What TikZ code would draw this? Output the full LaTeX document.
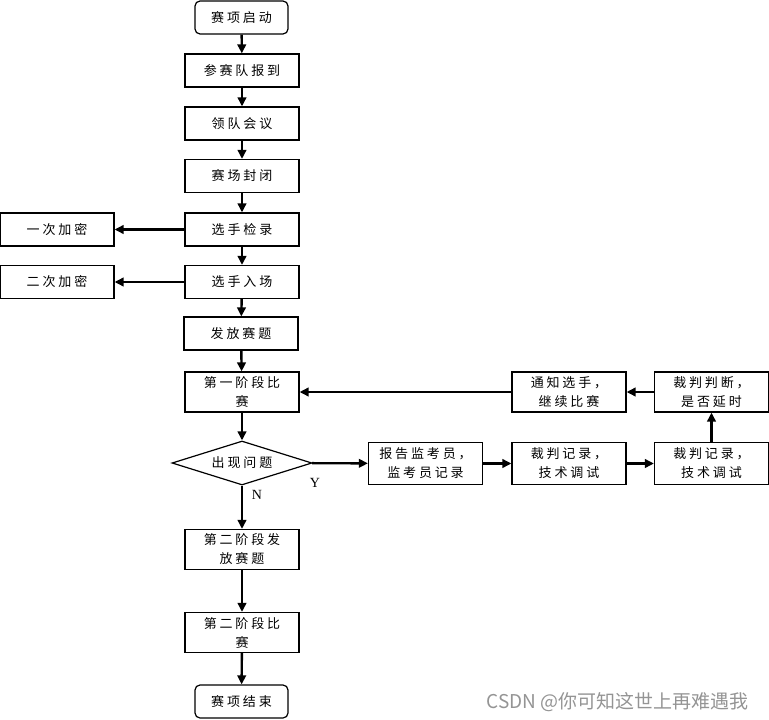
\documentclass[tikz,border=0pt]{standalone}
\usepackage{fontspec}
\newfontfamily\cjk[LetterSpace=22]{Noto Sans CJK SC}
\newfontfamily\cjkplain{Noto Sans CJK SC}
\usetikzlibrary{shapes.geometric,arrows.meta,positioning}
\begin{document}
\begin{tikzpicture}[x=1pt,y=-1pt,
    font=\cjk\fontsize{13}{19}\selectfont,
    box/.style={draw, line width=1.2pt, minimum width=114pt, minimum height=33pt, inner sep=1pt, align=center},
    tallbox/.style={box, minimum height=40pt},
    endbox/.style={box, rounded corners=5pt, minimum width=93pt},
    decision/.style={draw, diamond, line width=1.2pt, minimum width=140pt, minimum height=44pt, inner sep=0pt, aspect=3.2},
    arrow/.style={line width=2.4pt, -{Triangle[length=9pt,width=8.5pt]}},
    yn/.style={font=\fontspec{Liberation Serif}\fontsize{14}{14}\selectfont}]
\def\mx{242} % main column
\def\rx{569} % middle column on the right
\def\ry{711.5} % last column on the right
\useasboundingbox (0,0) rectangle (769,720);
% main column
\node[endbox] (start) at (241.5,17.5) {赛项启动};
\node[box] (arrive) at (\mx,70.5) {参赛队报到};
\node[box] (meeting) at (\mx,123.5) {领队会议};
\node[box] (close) at (\mx,176) {赛场封闭};
\node[box] (check) at (\mx,229.5) {选手检录};
\node[box] (enter) at (\mx,282) {选手入场};
\node[box] (issue) at (241,333.5) {发放赛题};
\node[tallbox] (stage1) at (\mx,392) {第一阶段比\\赛};
\node[decision] (problem) at (\mx,463) {出现问题};
\node[tallbox] (issue2) at (\mx,549.5) {第二阶段发\\放赛题};
\node[tallbox] (stage2) at (\mx,632.5) {第二阶段比\\赛};
\node[endbox] (finish) at (241.5,701.5) {赛项结束};
% left side
\node[box] (enc1) at (57,229.5) {一次加密};
\node[box] (enc2) at (57,282) {二次加密};
% right side
\node[box, minimum height=42pt] (tell) at (425.5,463.5) {报告监考员，\\监考员记录};
\node[box, minimum height=42pt] (judge1) at (\rx,463.5) {裁判记录，\\技术调试};
\node[box, minimum height=42pt] (judge2) at (\ry,463.5) {裁判记录，\\技术调试};
\node[tallbox] (decide) at (\ry,392) {裁判判断，\\是否延时};
\node[tallbox] (notify) at (\rx,392) {通知选手，\\继续比赛};
% arrows
\draw[arrow] (start) -- (arrive);
\draw[arrow] (arrive) -- (meeting);
\draw[arrow] (meeting) -- (close);
\draw[arrow] (close) -- (check);
\draw[arrow] (check) -- (enter);
\draw[arrow] (enter) -- (issue);
\draw[arrow] (issue) -- (stage1);
\draw[arrow] (stage1) -- (problem);
\draw[arrow] (problem) -- (issue2);
\draw[arrow] (issue2) -- (stage2);
\draw[arrow] (stage2) -- (finish);
\draw[arrow] (check) -- (enc1);
\draw[arrow] (enter) -- (enc2);
\draw[arrow] (problem) -- (tell);
\draw[arrow] (tell) -- (judge1);
\draw[arrow] (judge1) -- (judge2);
\draw[arrow] (judge2) -- (decide);
\draw[arrow] (decide) -- (notify);
\draw[arrow] (notify) -- (stage1);
% labels
\node[yn] (ylab) at (315,483) {Y};
\node[yn] (nlab) at (257,495) {N};
\node[font=\cjkplain\fontsize{19}{19}\selectfont, text=black!42] (mark) at (617.5,702) {CSDN @你可知这世上再难遇我};
\end{tikzpicture}
\end{document}
